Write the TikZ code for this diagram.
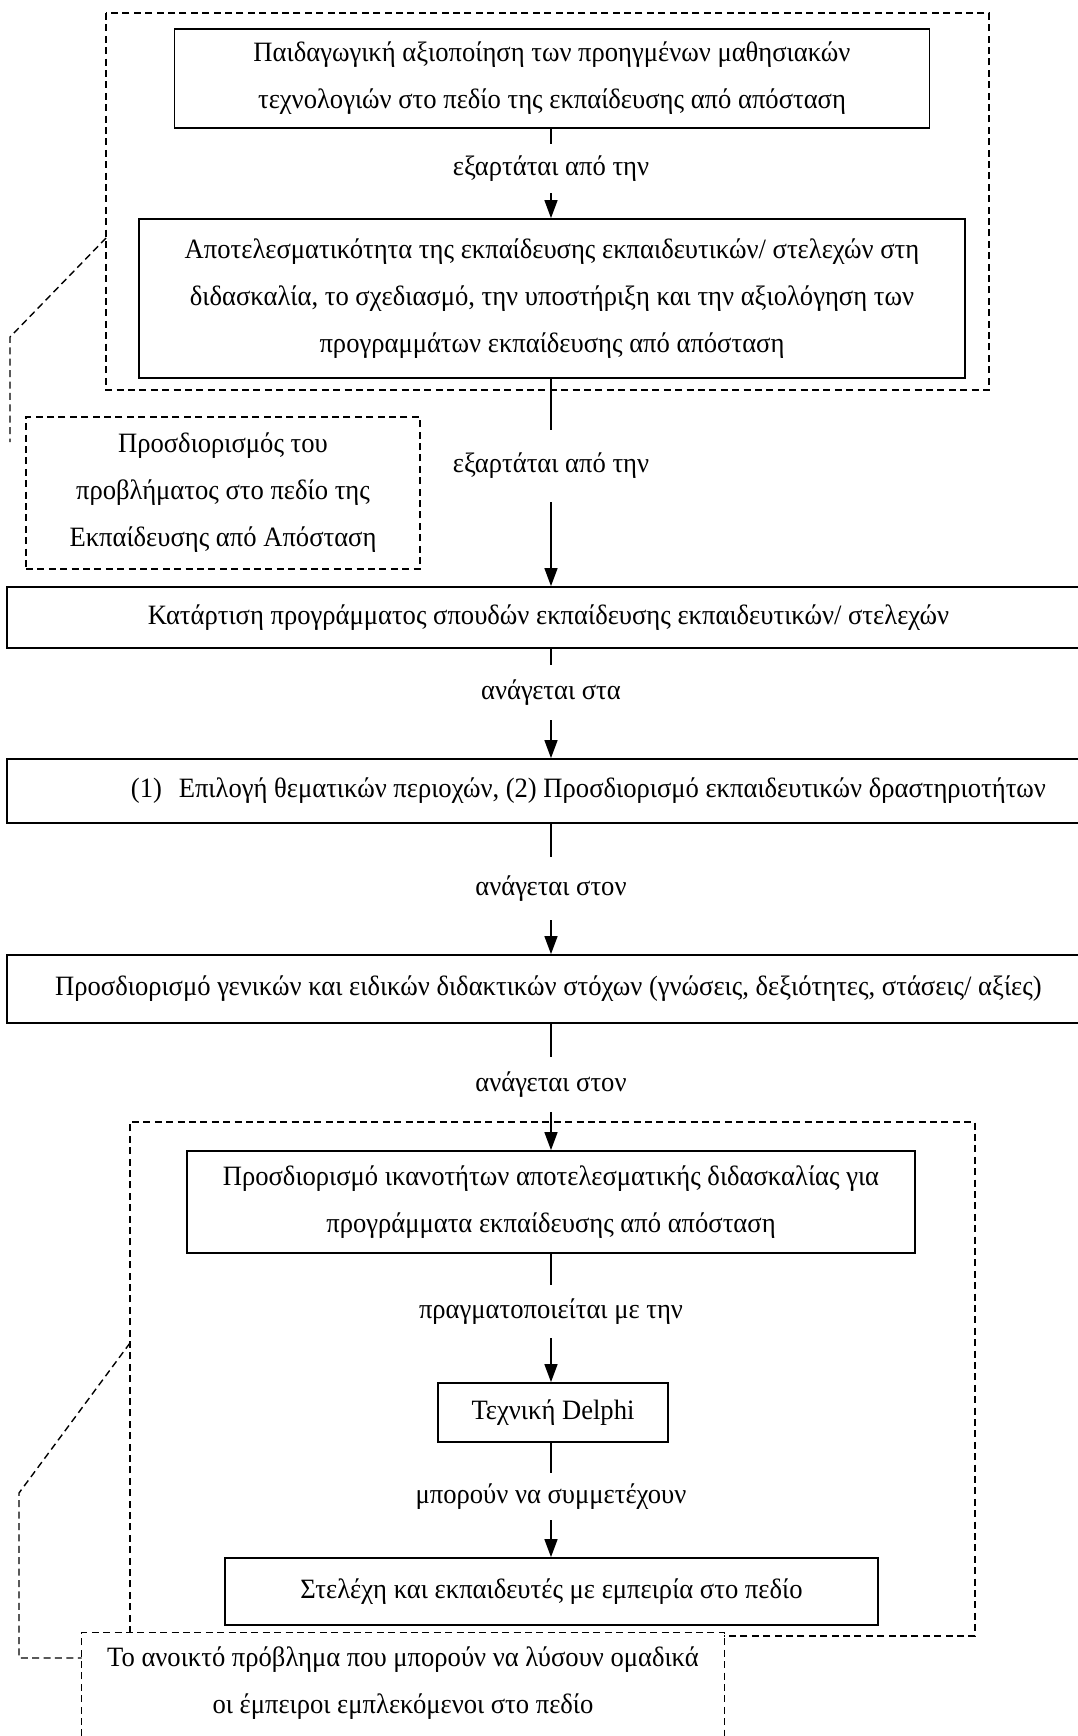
\documentclass[tikz,border=0pt]{standalone}
\usepackage{fontspec}
\setmainfont[FakeStretch=0.95]{Liberation Serif}
\usetikzlibrary{arrows.meta}
\newcommand{\mfnt}{\fontsize{14}{23.5}\selectfont}
\begin{document}
\begin{tikzpicture}[x=0.5pt,y=-0.5pt,
  box/.style={draw, line width=0.9pt, inner sep=0pt, align=center, font=\mfnt},
  dbox/.style={draw, line width=0.7pt, dash pattern=on 3.5pt off 2.2pt, inner sep=0pt, align=center, font=\mfnt},
  plain/.style={inner sep=0pt, align=center, font=\mfnt},
  lbl/.style={fill=white, inner xsep=6pt, inner ysep=0pt, font=\mfnt},
  conn/.style={line width=0.75pt},
  arr/.style={conn, -{Triangle[length=9pt,width=6.5pt]}},
  dline/.style={line width=0.7pt, dash pattern=on 3.5pt off 2.2pt}]
\useasboundingbox (0,0) rectangle (1077,1736);

% group frames
\draw[dline] (106,13) rectangle (989,390);
\coordinate (d3a) at (130,1633);
\coordinate (d3b) at (724,1636);
\draw[dline] (d3a) -- (130,1122) -- (975,1122) -- (975,1636) -- (d3b);

% boxes
\node[box, minimum width=377.5pt, minimum height=49.5pt] (B1) at (552,78.5)
  {Παιδαγωγική αξιοποίηση των προηγμένων μαθησιακών\\τεχνολογιών στο πεδίο της εκπαίδευσης από απόσταση};
\node[box, minimum width=413pt, minimum height=79.5pt] (B2) at (552,298.5)
  {Αποτελεσματικότητα της εκπαίδευσης εκπαιδευτικών/ στελεχών στη\\διδασκαλία, το σχεδιασμό, την υποστήριξη και την αξιολόγηση των\\προγραμμάτων εκπαίδευσης από απόσταση};
\node[dbox, minimum width=197pt, minimum height=76pt] (D2) at (223,493)
  {Προσδιορισμός του\\προβλήματος στο πεδίο της\\Εκπαίδευσης από Απόσταση};
\node[box, minimum width=541.5pt, minimum height=30.5pt] (B3) at (548.5,617.5)
  {Κατάρτιση προγράμματος σπουδών εκπαίδευσης εκπαιδευτικών/ στελεχών};
\node[box, minimum width=541.5pt, minimum height=32pt] (B4) at (548.5,791)
  {\hspace*{40pt}(1)\hspace{0.6em}Επιλογή θεματικών περιοχών, (2) Προσδιορισμό εκπαιδευτικών δραστηριοτήτων};
\node[box, minimum width=541.5pt, minimum height=34pt] (B5) at (548.5,989)
  {Προσδιορισμό γενικών και ειδικών διδακτικών στόχων (γνώσεις, δεξιότητες, στάσεις/ αξίες)};
\node[box, minimum width=364pt, minimum height=51pt] (B6) at (551,1202)
  {Προσδιορισμό ικανοτήτων αποτελεσματικής διδασκαλίας για\\προγράμματα εκπαίδευσης από απόσταση};
\node[box, minimum width=115pt, minimum height=29.5pt] (B7) at (553,1412.5)
  {Τεχνική Delphi};
\node[box, minimum width=326.5pt, minimum height=33.5pt] (B8) at (551.5,1591.5)
  {Στελέχη και εκπαιδευτές με εμπειρία στο πεδίο};
\node[plain, minimum width=321pt, minimum height=50pt] (D4) at (403,1683)
  {Το ανοικτό πρόβλημα που μπορούν να λύσουν ομαδικά\\οι έμπειροι εμπλεκόμενοι στο πεδίο};
\draw[dline] ([yshift=-30pt]D4.south west) -- (D4.north west) -- (D4.north east) -- ([yshift=-30pt]D4.south east);

% connector labels
\node[lbl, minimum height=24.5pt] (L1) at (551,168.5) {εξαρτάται από την};
\node[lbl, minimum height=36pt] (L2) at (551,466) {εξαρτάται από την};
\node[lbl, minimum height=27.5pt] (L3) at (551,692.5) {ανάγεται στα};
\node[lbl, minimum height=31.5pt] (L4) at (551,888.5) {ανάγεται στον};
\node[lbl, minimum height=27.5pt] (L5) at (551,1084.5) {ανάγεται στον};
\node[lbl, minimum height=26.5pt] (L6) at (551,1311.5) {πραγματοποιείται με την};
\node[lbl, minimum height=23.5pt] (L7) at (551,1496.5) {μπορούν να συμμετέχουν};

% main connectors
\draw[conn] (B1.south -| L1) -- (L1.north);
\draw[arr] (L1.south) -- (B2.north -| L1);
\draw[conn] (B2.south -| L2) -- (L2.north);
\draw[arr] (L2.south) -- (B3.north -| L2);
\draw[conn] (B3.south -| L3) -- (L3.north);
\draw[arr] (L3.south) -- (B4.north -| L3);
\draw[conn] (B4.south -| L4) -- (L4.north);
\draw[arr] (L4.south) -- (B5.north -| L4);
\draw[conn] (B5.south -| L5) -- (L5.north);
\draw[arr] (L5.south) -- (B6.north -| L5);
\draw[conn] (B6.south -| L6) -- (L6.north);
\draw[arr] (L6.south) -- (B7.north -| L6);
\draw[conn] (B7.south -| L7) -- (L7.north);
\draw[arr] (L7.south) -- (B8.north -| L7);

% dashed side connectors
\coordinate (c1a) at (106,238);
\coordinate (c1b) at (10,337);
\coordinate (c1c) at (10,442);
\draw[dline] (c1a) -- (c1b) -- (c1c);
\coordinate (c2a) at (130,1343);
\coordinate (c2b) at (19,1493);
\coordinate (c2c) at (19,1658);
\draw[dline] (c2a) -- (c2b) -- (c2c) -- (c2c -| D4.west);
\end{tikzpicture}
\end{document}
